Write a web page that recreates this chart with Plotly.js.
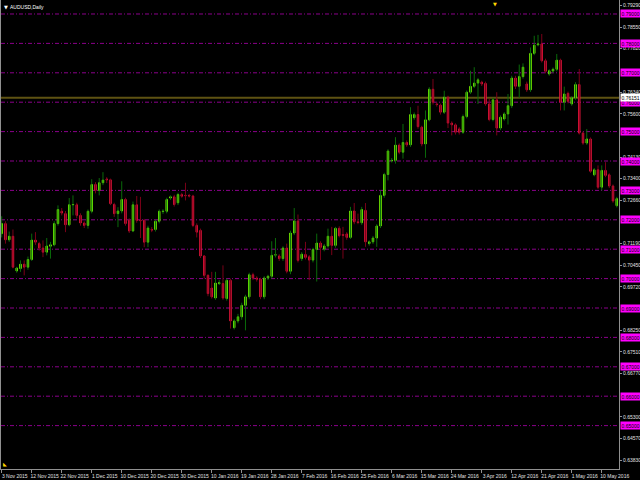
<!DOCTYPE html>
<html>
<head>
<meta charset="utf-8">
<script src="https://cdn.plot.ly/plotly-3.0.1.min.js"></script>
<style>html,body{margin:0;padding:0;background:#000;}#chart{width:640px;height:480px;}</style>
</head>
<body>
<div id="chart"></div>
<script>
// AUDUSD Daily candles (bar order, 3 Nov 2015 .. mid May 2016)
const opens = [
0.7153,0.7187,0.7132,0.7144,0.7026,0.7034,0.7049,0.7039,0.7065,0.7131,
0.7119,0.7104,0.7090,0.7110,0.7115,0.7187,0.7229,0.7221,0.7183,0.7251,
0.7251,0.7215,0.7189,0.7181,0.7229,0.7320,0.7300,0.7326,0.7339,0.7336,
0.7252,0.7221,0.7230,0.7269,0.7198,0.7162,0.7251,0.7198,0.7198,0.7124,
0.7167,0.7167,0.7195,0.7228,0.7229,0.7274,0.7278,0.7258,0.7286,0.7283,
0.7283,0.7281,0.7181,0.7164,0.7077,0.7011,0.6968,0.6934,0.6983,0.6983,
0.6932,0.6994,0.6833,0.6856,0.6870,0.6909,0.6938,0.7013,0.7002,0.6998,
0.6938,0.7002,0.7008,0.7080,0.7077,0.7068,0.7104,0.7025,0.7155,0.7196,
0.7068,0.7082,0.7074,0.7063,0.7099,0.7121,0.7100,0.7111,0.7144,0.7113,
0.7171,0.7150,0.7152,0.7140,0.7230,0.7193,0.7190,0.7232,0.7119,0.7125,
0.7138,0.7179,0.7283,0.7354,0.7400,0.7402,0.7454,0.7430,0.7463,0.7455,
0.7547,0.7558,0.7515,0.7458,0.7540,0.7644,0.7594,0.7590,0.7566,0.7617,
0.7529,0.7523,0.7509,0.7498,0.7551,0.7634,0.7654,0.7665,0.7668,0.7664,
0.7594,0.7541,0.7608,0.7512,0.7543,0.7560,0.7588,0.7682,0.7654,0.7687,
0.7662,0.7642,0.7766,0.7795,0.7798,0.7741,0.7696,0.7706,0.7712,0.7743,
0.7600,0.7630,0.7594,0.7615,0.7660,0.7495,0.7461,0.7475,0.7353,0.7370,
0.7311,0.7368,0.7353,0.7315,0.7248];
const highs = [
0.7212,0.7195,0.7160,0.7167,0.7040,0.7062,0.7062,0.7075,0.7153,0.7158,
0.7125,0.7130,0.7138,0.7125,0.7195,0.7249,0.7240,0.7230,0.7274,0.7283,
0.7258,0.7222,0.7195,0.7235,0.7338,0.7328,0.7342,0.7362,0.7345,0.7340,
0.7258,0.7243,0.7331,0.7275,0.7205,0.7262,0.7281,0.7278,0.7203,0.7180,
0.7175,0.7200,0.7235,0.7236,0.7275,0.7283,0.7285,0.7292,0.7292,0.7326,
0.7288,0.7285,0.7188,0.7170,0.7080,0.7015,0.7023,0.7023,0.6995,0.7045,
0.7000,0.7000,0.6862,0.6880,0.6918,0.6945,0.7020,0.7020,0.7008,0.7003,
0.7008,0.7013,0.7127,0.7138,0.7083,0.7110,0.7119,0.7163,0.7240,0.7218,
0.7090,0.7125,0.7080,0.7105,0.7153,0.7127,0.7118,0.7170,0.7176,0.7176,
0.7178,0.7176,0.7158,0.7244,0.7257,0.7221,0.7244,0.7257,0.7130,0.7145,
0.7185,0.7300,0.7360,0.7440,0.7410,0.7481,0.7460,0.7526,0.7470,0.7583,
0.7565,0.7588,0.7520,0.7572,0.7651,0.7679,0.7600,0.7595,0.7639,0.7622,
0.7535,0.7528,0.7515,0.7558,0.7640,0.7707,0.7719,0.7682,0.7673,0.7670,
0.7611,0.7615,0.7634,0.7555,0.7566,0.7628,0.7690,0.7690,0.7728,0.7732,
0.7670,0.7786,0.7826,0.7829,0.7832,0.7748,0.7712,0.7718,0.7764,0.7748,
0.7653,0.7636,0.7620,0.7668,0.7713,0.7500,0.7509,0.7480,0.7376,0.7385,
0.7385,0.7396,0.7358,0.7320,0.7278];
const lows = [
0.7140,0.7119,0.7125,0.7035,0.7020,0.7023,0.7011,0.7030,0.7060,0.7115,
0.7095,0.7073,0.7079,0.7068,0.7110,0.7180,0.7215,0.7158,0.7178,0.7215,
0.7205,0.7180,0.7172,0.7170,0.7222,0.7290,0.7283,0.7318,0.7325,0.7250,
0.7210,0.7175,0.7222,0.7180,0.7155,0.7158,0.7190,0.7138,0.7107,0.7107,
0.7158,0.7160,0.7188,0.7220,0.7222,0.7268,0.7245,0.7250,0.7275,0.7266,
0.7276,0.7175,0.7140,0.7070,0.7000,0.6940,0.6932,0.6928,0.6978,0.6928,
0.6925,0.6830,0.6827,0.6848,0.6860,0.6824,0.6930,0.6995,0.6990,0.6930,
0.6930,0.6995,0.7000,0.7072,0.7060,0.7060,0.7018,0.7015,0.7148,0.7055,
0.7060,0.7065,0.6995,0.7055,0.6990,0.7063,0.7093,0.7105,0.7080,0.7105,
0.7140,0.7068,0.7132,0.7135,0.7185,0.7185,0.7183,0.7108,0.7112,0.7118,
0.7108,0.7172,0.7275,0.7334,0.7395,0.7391,0.7423,0.7408,0.7448,0.7448,
0.7540,0.7510,0.7450,0.7411,0.7535,0.7592,0.7585,0.7558,0.7560,0.7512,
0.7487,0.7490,0.7490,0.7492,0.7545,0.7628,0.7648,0.7594,0.7655,0.7588,
0.7535,0.7535,0.7487,0.7505,0.7537,0.7524,0.7580,0.7645,0.7615,0.7680,
0.7635,0.7635,0.7760,0.7790,0.7735,0.7698,0.7690,0.7700,0.7705,0.7572,
0.7572,0.7596,0.7588,0.7608,0.7490,0.7455,0.7455,0.7360,0.7348,0.7305,
0.7300,0.7345,0.7308,0.7258,0.7242];
const closes = [
0.7187,0.7132,0.7144,0.7039,0.7036,0.7049,0.7039,0.7065,0.7131,0.7124,
0.7104,0.7090,0.7111,0.7115,0.7187,0.7235,0.7223,0.7183,0.7251,0.7252,
0.7215,0.7189,0.7181,0.7229,0.7320,0.7300,0.7326,0.7335,0.7336,0.7255,
0.7221,0.7230,0.7269,0.7187,0.7162,0.7251,0.7198,0.7197,0.7124,0.7172,
0.7165,0.7195,0.7229,0.7229,0.7269,0.7278,0.7252,0.7286,0.7280,0.7282,
0.7281,0.7181,0.7158,0.7077,0.7011,0.6949,0.6938,0.6985,0.6986,0.6934,
0.6994,0.6856,0.6856,0.6870,0.6909,0.6938,0.7013,0.7002,0.6998,0.6938,
0.7002,0.7008,0.7079,0.7081,0.7068,0.7104,0.7025,0.7155,0.7196,0.7062,
0.7083,0.7072,0.7063,0.7099,0.7121,0.7106,0.7111,0.7144,0.7113,0.7171,
0.7146,0.7147,0.7140,0.7230,0.7193,0.7191,0.7235,0.7125,0.7125,0.7138,
0.7179,0.7283,0.7354,0.7434,0.7402,0.7454,0.7430,0.7463,0.7455,0.7558,
0.7558,0.7517,0.7458,0.7540,0.7644,0.7600,0.7592,0.7566,0.7617,0.7529,
0.7523,0.7498,0.7498,0.7551,0.7634,0.7654,0.7665,0.7676,0.7662,0.7594,
0.7541,0.7608,0.7512,0.7549,0.7560,0.7588,0.7682,0.7654,0.7687,0.7719,
0.7642,0.7766,0.7794,0.7798,0.7741,0.7705,0.7707,0.7712,0.7743,0.7600,
0.7628,0.7603,0.7615,0.7660,0.7495,0.7461,0.7475,0.7365,0.7370,0.7311,
0.7368,0.7351,0.7315,0.7264,0.7272];

// x-axis date labels and the bar they belong to
const dateLabels = ['3 Nov 2015','12 Nov 2015','22 Nov 2015','1 Dec 2015','10 Dec 2015','20 Dec 2015','30 Dec 2015','10 Jan 2016','19 Jan 2016','28 Jan 2016','7 Feb 2016','16 Feb 2016','25 Feb 2016','6 Mar 2016','15 Mar 2016','24 Mar 2016','3 Apr 2016','12 Apr 2016','21 Apr 2016','1 May 2016','10 May 2016'];
const dateLabelBars = [0,8,16,24,32,40,48,56,64,72,80,88,96,104,112,120,128,136,144,152,160];

// price scale labels (those not hidden under the level boxes)
const priceTicks = [0.79290,0.78550,0.77820,0.76340,0.75600,0.74130,0.73400,0.72660,0.71190,0.70450,0.69720,0.68250,0.67510,0.66770,0.65300,0.64570,0.63830];
// round-number level lines (magenta)
const levels = [0.79,0.78,0.77,0.76,0.75,0.74,0.73,0.72,0.71,0.70,0.69,0.68,0.67,0.66,0.65];
// horizontal price line
const priceLine = 0.76151;

const xs = opens.map((_, i) => i);
const bodyHigh = opens.map((o, i) => Math.max(o, closes[i]));
const bodyLow = opens.map((o, i) => Math.min(o, closes[i]));

const FONT = '"Liberation Sans", Arial, sans-serif';
const FS = 5;

const wicks = {
  type: 'ohlc', x: xs, open: opens, high: highs, low: lows, close: closes,
  tickwidth: 0,
  increasing: {line: {color: '#0a6a0a', width: 1}},
  decreasing: {line: {color: '#7a0018', width: 1}},
  hoverinfo: 'skip'
};
const bodies = {
  type: 'candlestick', x: xs, open: opens, high: bodyHigh, low: bodyLow, close: closes,
  whiskerwidth: 0,
  increasing: {line: {color: '#7CFC00', width: 1}, fillcolor: '#7CFC00'},
  decreasing: {line: {color: '#E8163C', width: 1}, fillcolor: '#E8163C'},
  hoverinfo: 'skip'
};

const shapes = levels.map(v => ({
  type: 'line', xref: 'paper', x0: 0, x1: 1, yref: 'y', y0: v, y1: v,
  line: {color: '#8a008a', width: 1, dash: '4px,2px,1px,2px'}, layer: 'below'
}));
shapes.push({type: 'line', xref: 'paper', x0: 0, x1: 1, yref: 'y', y0: priceLine, y1: priceLine,
  line: {color: '#5e5212', width: 2}, layer: 'below'});

const annotations = levels.map(v => ({
  xref: 'paper', x: 1, xanchor: 'left', xshift: 1, yref: 'y', y: v, yanchor: 'middle',
  text: v.toFixed(5), showarrow: false, bgcolor: '#FF00FF', borderpad: 0.5,
  font: {family: FONT, size: FS, color: '#000000'}
}));
annotations.push({xref: 'paper', x: 1, xanchor: 'left', xshift: 1, yref: 'y', y: priceLine, yanchor: 'middle',
  text: priceLine.toFixed(5), showarrow: false, bgcolor: '#FFFFFF', borderpad: 0.5,
  font: {family: FONT, size: FS, color: '#000000'}});
annotations.push({xref: 'paper', x: 0, xanchor: 'left', xshift: 7, yref: 'paper', y: 1, yanchor: 'top', yshift: -2,
  text: 'AUDUSD,Daily', showarrow: false, font: {family: FONT, size: FS, color: '#FFFFFF'}});
annotations.push({xref: 'paper', x: 0, xanchor: 'left', xshift: 1, yref: 'paper', y: 1, yanchor: 'top', yshift: -2,
  text: '▼', showarrow: false, font: {family: 'DejaVu Sans', size: 5, color: '#FFFFFF'}});
annotations.push({xref: 'paper', x: 0.8, xanchor: 'center', yref: 'paper', y: 1, yanchor: 'top', yshift: 1,
  text: '▼', showarrow: false, font: {family: 'DejaVu Sans', size: 5, color: '#FFD700'}});
annotations.push({xref: 'paper', x: 0, xanchor: 'left', xshift: 0, yref: 'paper', y: 0, yanchor: 'bottom', yshift: 0,
  text: '◣', showarrow: false, font: {family: 'DejaVu Sans', size: 5, color: '#FFD700'}});

const layout = {
  width: 640, height: 480,
  paper_bgcolor: '#000000', plot_bgcolor: '#000000',
  margin: {l: 1, r: 21, t: 0, b: 11, pad: 0},
  showlegend: false, hovermode: false,
  boxgap: 0.45,
  xaxis: {
    range: [-0.19, 164.6], rangeslider: {visible: false}, fixedrange: true,
    showgrid: false, zeroline: false, showline: true, linecolor: '#909090', linewidth: 1,
    tickmode: 'array', tickvals: dateLabelBars, ticktext: dateLabels, tickangle: 0,
    ticks: 'outside', ticklen: 3, tickcolor: '#909090',
    ticklabelshift: 13, ticklabelstandoff: -1, ticklabeloverflow: 'allow',
    tickfont: {family: FONT, size: FS, color: '#E0E0E0'}
  },
  yaxis: {
    side: 'right', range: [0.63524, 0.79476], fixedrange: true,
    showgrid: false, zeroline: false, showline: true, mirror: true, linecolor: '#909090', linewidth: 1,
    tickmode: 'array', tickvals: priceTicks, ticktext: priceTicks.map(v => v.toFixed(5)),
    ticks: 'outside', ticklen: 2, tickcolor: '#909090', ticklabeloverflow: 'allow',
    tickfont: {family: FONT, size: FS, color: '#E0E0E0'}
  },
  shapes: shapes,
  annotations: annotations
};

Plotly.newPlot('chart', [wicks, bodies], layout, {staticPlot: true, displayModeBar: false});
</script>
</body>
</html>
